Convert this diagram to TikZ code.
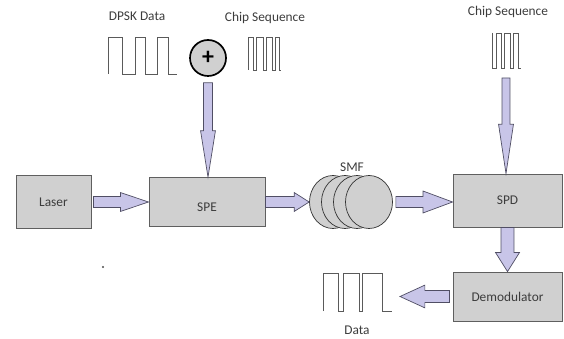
\documentclass[tikz,border=0pt]{standalone}
\usepackage{fontspec}
\setmainfont{Carlito}
\usetikzlibrary{calc}
\usetikzlibrary{shapes.geometric}

\definecolor{boxgray}{RGB}{208,208,208}
\definecolor{boxline}{RGB}{95,95,95}
\definecolor{arrowfill}{RGB}{200,197,232}
\definecolor{arrowline}{RGB}{80,78,100}
\definecolor{textgray}{RGB}{60,60,60}
\definecolor{wavegray}{RGB}{90,90,90}

\tikzset{
  block/.style={draw=boxline, fill=boxgray, line width=0.6pt, inner sep=0pt, text=textgray, font=\fontsize{9.5}{11}\selectfont},
  coil/.style={ellipse, draw=black!80, fill=boxgray, line width=0.5pt, minimum width=1.175cm, minimum height=1.325cm, inner sep=0pt},
  caption/.style={text=textgray, font=\fontsize{9.5}{11}\selectfont},
  wave/.style={draw=wavegray, line width=0.5pt},
  fat/.style={fill=arrowfill, draw=arrowline, line width=0.5pt, line join=miter}
}

% block arrow: from, to, half shaft, half head, head length
\newcommand{\blockarrow}[5]{%
  \path (#2) coordinate (ba-t) ($(#2)!#5!(#1)$) coordinate (ba-h);
  \filldraw[fat] ($(#1)!#3!90:(#2)$) -- ($(ba-h)!#3!90:(ba-t)$) -- ($(ba-h)!#4!90:(ba-t)$) -- (ba-t)
    -- ($(ba-h)!#4!-90:(ba-t)$) -- ($(ba-h)!#3!-90:(ba-t)$) -- ($(#1)!#3!-90:(#2)$) -- cycle;
}

\begin{document}
\begin{tikzpicture}[x=0.025cm, y=-0.025cm]
  \useasboundingbox (0,0) rectangle (564,339);

  % boxes
  \node [block, minimum width=1.875cm, minimum height=1.325cm] (laser) at (53.5,202) {Laser\hspace{9pt}};
  \node [block, minimum width=2.9cm, minimum height=1.225cm] (spe) at (207,202) {\raisebox{-14pt}{SPE}\hspace{14pt}};
  \node [block, minimum width=2.725cm, minimum height=1.325cm] (spd) at (507.5,200.5) {SPD};
  \node [block, minimum width=2.725cm, minimum height=1.225cm] (demod) at (507.5,296.5) {Demodulator};

  % fibre coils
  \foreach \i/\x in {1/333,2/345,3/357,4/369}
    \node [coil] (smf\i) at (\x,202) {};
  \node [caption] (smflabel) at (352,167) {SMF};

  % xor
  \node [circle, draw=black, fill=boxgray, line width=1.2pt, minimum size=0.9cm, inner sep=0pt,
         font=\fontsize{17}{17}\selectfont\bfseries] (xor) at (208,58) {+};

  % labels
  \node [caption] (dpsklabel) at (137,16) {DPSK Data};
  \node [caption] (chiplabel) at (265,18) {Chip Sequence};
  \node [caption] (chiplabelb) at (508,12) {Chip Sequence};
  \node [caption] (datalabel) at (357,330) {Data};

  % waveforms
  \draw [wave] (108,74) -- (108,37) -- (122,37) -- (122,74) -- (135,74) -- (135,37) -- (145,37) -- (145,74)
    -- (157,74) -- (157,37) -- (168,37) -- (168,74) -- (177,74);
  \draw [wave] (248,70) -- (248,37) -- (253,37) -- (253,70) -- (256,70) -- (256,37) -- (263,37) -- (263,70)
    -- (266,70) -- (266,37) -- (272,37) -- (272,70) -- (275,70) -- (275,37) -- (279,37) -- (279,70) -- (281,70);
  \draw [wave] (492,33) -- (492,68) -- (496,68) -- (496,33) -- (501,33) -- (501,68) -- (504,68) -- (504,33)
    -- (510,33) -- (510,68) -- (513,68) -- (513,33) -- (518,33) -- (518,68) -- (521,68);
  \draw [wave] (323,311) -- (323,273) -- (338,273) -- (338,311) -- (343,311) -- (343,273) -- (359,273) -- (359,311)
    -- (362,311) -- (362,273) -- (382,273) -- (382,311) -- (392,311);

  \coordinate (chipb) at (506,78);
  \coordinate (dataend) at (400,296.5);
  \fill [black!70] (103,267) circle (0.8pt);

  % arrows
  \blockarrow{$(laser.east)+(2,0)$}{spe.west}{3.9pt}{6.7pt}{20pt}
  \blockarrow{spe.east}{smf1.west}{3.9pt}{6.7pt}{10.6pt}
  \blockarrow{$(smf4.east)+(3,0)$}{smf4.east -| spd.west}{3.9pt}{7.8pt}{21pt}
  \blockarrow{$(xor.south)+(0,6)$}{xor.south |- spe.north}{3.2pt}{5.3pt}{33pt}
  \blockarrow{chipb}{chipb |- spd.north}{2.8pt}{5.3pt}{35pt}
  \blockarrow{spd.south}{spd.south |- demod.north}{4.6pt}{8.5pt}{13.5pt}
  \blockarrow{$(demod.west)+(-3,0)$}{dataend}{4.3pt}{8.1pt}{17.7pt}
\end{tikzpicture}
\end{document}
